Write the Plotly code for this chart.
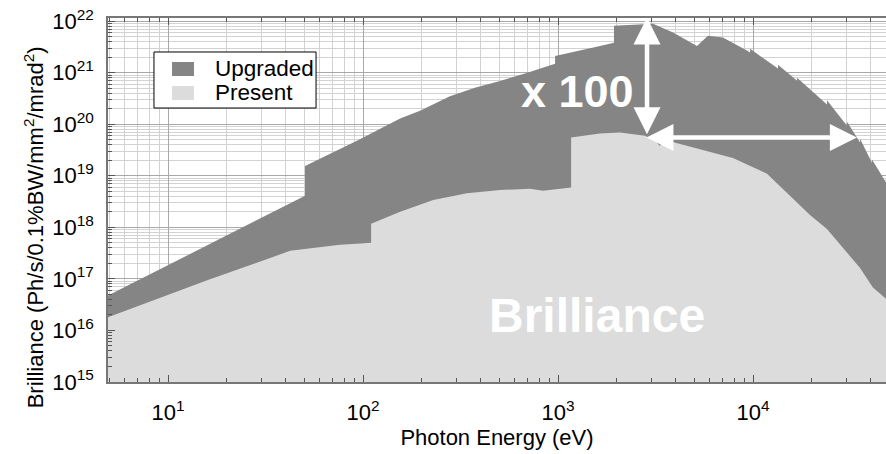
import math
import plotly.graph_objects as go

# Photon energy (eV) vs. brilliance (Ph/s/0.1%BW/mm^2/mrad^2)
upgraded_energy = [4.9, 50.4, 50.4, 93, 155, 196, 279, 375, 504, 677, 966, 966, 1641, 1936, 1936,
                   2400, 3070, 3890, 4590, 5160, 5870, 7000, 9310, 9660, 9660,
                   13430, 13430, 16830, 16830, 23950, 23950, 30350, 30350,
                   35400, 35400, 40700, 40700, 48500]
upgraded_brilliance = [4.7e16, 4.1e18, 1.55e19, 4.8e19, 1.29e20, 1.82e20, 3.5e20, 5.1e20, 6.9e20,
                       9.6e20, 1.48e21, 2.1e21, 3.3e21, 3.8e21, 8.1e21, 8.4e21, 8.9e21, 6.0e21,
                       4.2e21, 3.3e21, 5.2e21, 4.8e21, 2.7e21, 2.45e21, 2.9e21, 1.2e21, 1.43e21,
                       7.0e20, 8.0e20, 2.4e20, 2.9e20, 9.3e19, 1.12e20, 4.4e19, 5.2e19,
                       1.78e19, 2.1e19, 7.0e18]

present_energy = [4.9, 16.0, 42.3, 60, 76, 93, 110, 110, 155, 229, 341, 504, 718, 837, 1167, 1167,
                  1641, 2080, 2790, 3143, 3335, 3500, 5346, 7890, 11800, 16030, 19600,
                  23950, 28960, 35400, 41200, 48500]
present_brilliance = [1.8e16, 9.5e16, 3.5e17, 4.2e17, 4.6e17, 4.8e17, 5.0e17, 1.17e18, 2.0e18,
                      3.4e18, 4.6e18, 5.3e18, 5.6e18, 5.1e18, 5.9e18, 5.5e19, 6.6e19, 6.9e19,
                      6.0e19, 4.8e19, 3.8e19, 5.0e19, 3.3e19, 2.2e19, 1.1e19, 3.7e18, 1.74e18,
                      9.3e17, 4.0e17, 1.62e17, 6.8e16, 4.0e16]

series_names = ["Upgraded", "Present"]

x_tickvals = [10, 100, 1000, 10000]
x_ticktext = ["10<sup>1</sup>", "10<sup>2</sup>", "10<sup>3</sup>", "10<sup>4</sup>"]
y_tickvals = [1e15, 1e16, 1e17, 1e18, 1e19, 1e20, 1e21, 1e22]
y_ticktext = ["10<sup>%d</sup>" % p for p in range(15, 23)]

# Gain arrows: vertical "x 100" at the present-peak energy, horizontal extent of the gain
arrow_peak_energy = 2860
arrow_peak_brilliance = 6.0e19
arrow_top_brilliance = 1.17e22
arrow_h_brilliance = 5.5e19
arrow_h_start_energy = 2790
arrow_h_end_energy = 34100

DARK = "#858585"
LIGHT = "#dcdcdc"
FLOOR = 1e14
FONT = "Arial, Liberation Sans, Helvetica, sans-serif"
colors = [DARK, LIGHT]

fig = go.Figure()

for energy, bril, color, name in [(upgraded_energy, upgraded_brilliance, DARK, series_names[0]),
                                  (present_energy, present_brilliance, LIGHT, series_names[1])]:
    fig.add_trace(go.Scatter(
        x=energy + [energy[-1], energy[0]],
        y=bril + [FLOOR, FLOOR],
        mode="lines", fill="toself", fillcolor=color, name=name,
        line=dict(width=0, color=color),
        showlegend=False, hoverinfo="skip"))

lx = math.log10


def arrow(x_head, y_head, x_tail, y_tail):
    fig.add_annotation(
        x=lx(x_head), y=lx(y_head), ax=lx(x_tail), ay=lx(y_tail),
        xref="x", yref="y", axref="x", ayref="y", text="",
        showarrow=True, arrowhead=2, startarrowhead=2, arrowside="end+start",
        arrowsize=1.2, startarrowsize=1.2, arrowwidth=4.5, arrowcolor="white")


arrow(arrow_peak_energy, arrow_top_brilliance, arrow_peak_energy, arrow_peak_brilliance)
arrow(arrow_h_end_energy, arrow_h_brilliance, arrow_h_start_energy, arrow_h_brilliance)

fig.add_annotation(text="<b>x 100</b>", x=0.603, y=0.799, xref="paper", yref="paper",
                   xanchor="center", yanchor="middle",
                   showarrow=False, font=dict(family=FONT, size=45, color="white"))
fig.add_annotation(text="<b>Brilliance</b>", x=0.6285, y=0.184, xref="paper", yref="paper",
                   xanchor="center", yanchor="middle",
                   showarrow=False, font=dict(family=FONT, size=48, color="white"))
fig.add_annotation(text="Brilliance (Ph/s/0.1%BW/mm<sup>2</sup>/mrad<sup>2</sup>)",
                   x=-0.0951, y=0.425, xref="paper", yref="paper", textangle=-90,
                   xanchor="center", yanchor="middle",
                   showarrow=False, font=dict(family=FONT, size=22, color="black"))

# Boxed legend in the upper-left corner of the axes
fig.add_shape(type="rect", xref="paper", yref="paper", x0=0.0591, x1=0.2674, y0=0.7527, y1=0.9066,
              fillcolor="white", line=dict(color="black", width=1), layer="above")
legend_rows = [(0.8407, 0.8791, 0.8599), (0.7747, 0.8132, 0.7940)]
for name, color, (s0, s1, ty) in zip(series_names, colors, legend_rows):
    fig.add_shape(type="rect", xref="paper", yref="paper", x0=0.0823, x1=0.1105, y0=s0, y1=s1,
                  fillcolor=color, line=dict(width=0), layer="above")
    fig.add_annotation(text=name, x=0.135, y=ty, xref="paper", yref="paper",
                       xanchor="left", yanchor="middle", showarrow=False,
                       font=dict(family=FONT, size=22.5, color="black"))

axis_common = dict(
    type="log", ticks="inside", ticklen=7, tickcolor="#555555", tickwidth=1,
    showline=True, linecolor="#777777", linewidth=1.5,
    showgrid=True, gridcolor="#a8a8a8", gridwidth=1,
    tickfont=dict(family=FONT, size=22, color="black"),
    zeroline=False,
    minor=dict(ticks="inside", ticklen=4, tickcolor="#555555", dtick="D1",
               showgrid=True, gridcolor="#d2d2d2", gridwidth=1),
)

fig.update_layout(
    width=886, height=454,
    margin=dict(l=108, r=0, t=18, b=72),
    paper_bgcolor="white", plot_bgcolor="white",
    font=dict(family=FONT, color="black"),
    showlegend=False,
    xaxis=dict(range=[0.692, 4.682], tickmode="array", tickvals=x_tickvals, ticktext=x_ticktext,
               mirror="ticks", ticklabelstandoff=10,
               title=dict(text="Photon Energy (eV)", font=dict(family=FONT, size=22), standoff=2),
               **axis_common),
    yaxis=dict(range=[15, 22.06], tickmode="array", tickvals=y_tickvals, ticktext=y_ticktext,
               mirror=False, ticklabelstandoff=8, **axis_common),
)

fig.write_html("out.html")
